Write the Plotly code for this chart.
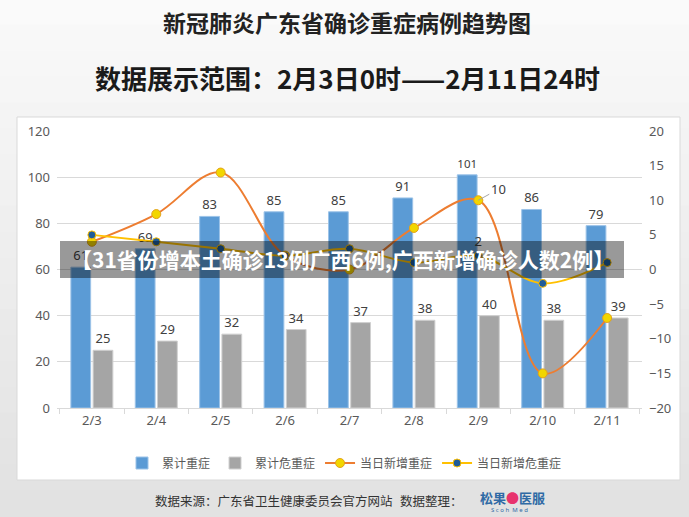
import plotly.graph_objects as go

# ---- data ----
dates = ["2/3", "2/4", "2/5", "2/6", "2/7", "2/8", "2/9", "2/10", "2/11"]
cum_severe = [61, 69, 83, 85, 85, 91, 101, 86, 79]
cum_critical = [25, 29, 32, 34, 37, 38, 40, 38, 39]
new_severe = [4, 8, 14, 2, 0, 6, 10, -15, -7]
new_critical = [5, 4, 3, 2, 3, 1, 2, -2, 1]
new_critical_labels = ["", "", "", "", "", "", "2", "", ""]
left_ticks = [0, 20, 40, 60, 80, 100, 120]
right_ticks = [-20, -15, -10, -5, 0, 5, 10, 15, 20]

W, H = 689, 517
ML, MR, MT, MB = 57, 47, 131, 109
PW, PH = W - ML - MR, H - MT - MB


def px_x(p):
    return (p - ML) / PW


def px_y(p):
    return (H - MB - p) / PH


FONT = "Noto Sans, Noto Sans CJK SC, sans-serif"
CJK = "Noto Sans CJK SC, sans-serif"

fig = go.Figure()
fig.add_trace(go.Bar(
    x=dates, y=cum_severe, name="累计重症",
    marker=dict(color="#5B9BD5", line=dict(color="#9cc3e8", width=1)),
    text=[str(v) for v in cum_severe], textposition="outside",
    textfont=dict(color="#404040", size=13, family=FONT), cliponaxis=False,
))
fig.add_trace(go.Bar(
    x=dates, y=cum_critical, name="累计危重症",
    marker=dict(color="#A5A5A5", line=dict(color="#d0d0d0", width=1)),
    text=[str(v) for v in cum_critical], textposition="outside",
    textfont=dict(color="#404040", size=13, family=FONT), cliponaxis=False,
))
fig.add_trace(go.Scatter(
    x=dates, y=new_severe, name="当日新增重症", yaxis="y2",
    mode="lines+markers", line=dict(color="#ED7D31", width=2, shape="spline"),
    marker=dict(color="#F2D600", size=9, line=dict(color="#E3A21A", width=1)),
))
fig.add_trace(go.Scatter(
    x=dates, y=new_critical, name="当日新增危重症", yaxis="y2",
    mode="lines+markers+text", line=dict(color="#FFC000", width=2, shape="spline"),
    marker=dict(color="#1F5C99", size=8, line=dict(color="#FFC000", width=1)),
    text=new_critical_labels, textposition="top center",
    textfont=dict(color="#404040", size=13, family=FONT),
))

# background gradient bands
shapes = []
n = 20
for i in range(n):
    y0p = i * H / n
    y1p = (i + 1) * H / n
    g = int(250 - (250 - 226) * i / (n - 1))
    shapes.append(dict(type="rect", xref="paper", yref="paper",
                       x0=px_x(-2), x1=px_x(W + 2), y0=px_y(y1p + 1), y1=px_y(y0p - 1),
                       fillcolor=f"rgb({g},{g},{g})", line=dict(width=0), layer="below"))
# white panel
shapes.append(dict(type="rect", xref="paper", yref="paper",
                   x0=px_x(17), x1=px_x(680), y0=px_y(480), y1=px_y(117),
                   fillcolor="white", line=dict(color="#d9d9d9", width=1), layer="below"))
# banner
shapes.append(dict(type="rect", xref="paper", yref="paper",
                   x0=px_x(60), x1=px_x(624), y0=px_y(278), y1=px_y(241),
                   fillcolor="rgba(0,0,0,0.4)", line=dict(width=0), layer="above"))


def note(text, x, y, size, color="#333333", family=CJK, xanchor="center"):
    return dict(text=text, xref="paper", yref="paper", x=px_x(x), y=px_y(y),
                xanchor=xanchor, yanchor="middle", showarrow=False,
                font=dict(size=size, color=color, family=family))


annotations = [
    note("<b>新冠肺炎广东省确诊重症病例趋势图</b>", 347, 22, 23, "#222222"),
    note("<b>数据展示范围：2月3日0时——2月11日24时</b>", 347, 78, 26, "#1a1a1a"),
    note("<b>【31省份增本土确诊13例广西6例,广西新增确诊人数2例】</b>", 342, 259, 21, "white"),
    note("数据来源：广东省卫生健康委员会官方网站", 153, 500, 12.5, xanchor="left"),
    note("数据整理：", 398, 500, 12.5, xanchor="left"),
    note("<b><span style='color:#2f6aa5'>松果</span><span style='color:#e8336d'>●</span>"
         "<span style='color:#2f6aa5'>医服</span></b>", 512, 497, 13),
    note("S c o h  M e d", 509, 510, 6, "#2f6aa5", FONT),
    dict(text=str(new_severe[6]), x=dates[6], y=new_severe[6], xref="x", yref="y2",
         showarrow=True, arrowhead=0, arrowwidth=1, arrowcolor="#a6a6a6",
         ax=20, ay=-11, font=dict(size=13, color="#404040", family=FONT)),
]

fig.update_layout(
    width=W, height=H,
    margin=dict(l=ML, r=MR, t=MT, b=MB, pad=0),
    paper_bgcolor="#ececec", plot_bgcolor="rgba(0,0,0,0)",
    barmode="group", bargap=0.31, bargroupgap=0.11,
    font=dict(family=FONT, color="#595959", size=13),
    xaxis=dict(type="category", showgrid=False, showline=True, linecolor="#d9d9d9",
               ticks="outside", tickson="boundaries", ticklen=5, tickcolor="#d9d9d9",
               tickfont=dict(size=13, color="#595959")),
    yaxis=dict(range=[0, 120], tickvals=left_ticks, showgrid=True, gridcolor="#d9d9d9",
               zeroline=False, showline=False, tickfont=dict(size=13, color="#595959"),
               ticklabelstandoff=6),
    yaxis2=dict(range=[-20, 20], tickvals=right_ticks, overlaying="y", side="right",
                showgrid=False, zeroline=False, showline=False,
                tickfont=dict(size=13, color="#595959"), ticklabelstandoff=6),
    legend=dict(orientation="h", x=0.5, xanchor="center", xref="container",
                y=1 - 463 / H, yanchor="middle", yref="container",
                font=dict(size=12, color="#595959", family=CJK),
                bgcolor="rgba(0,0,0,0)", itemwidth=30, tracegroupgap=0),
    shapes=shapes, annotations=annotations, showlegend=True,
)

fig.write_html("out.html", config={"displayModeBar": False},
               post_script="document.body.style.margin='0';document.body.style.overflow='hidden';")
